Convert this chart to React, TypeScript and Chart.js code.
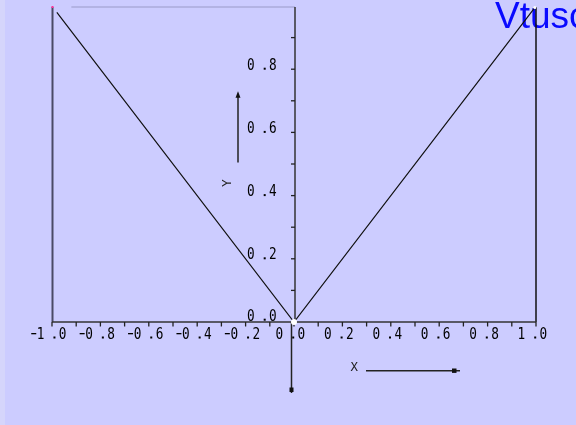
import React, { useEffect, useRef } from "react";
import { Chart, registerables } from "chart.js";

Chart.register(...registerables);

const TITLE = "Vtusc";
const X_NAME = "X";
const Y_NAME = "Y";
const X_VALUES = [-0.98, 0, 0.995];
const Y_VALUES = [0.98, 0, 0.995];
const X_MAJOR_TICKS = [-1.0, -0.8, -0.6, -0.4, -0.2, 0.0, 0.2, 0.4, 0.6, 0.8, 1.0];
const X_TICK_LABELS = ["-1.0", "-0.8", "-0.6", "-0.4", "-0.2", "0.0", "0.2", "0.4", "0.6", "0.8", "1.0"];
const X_MINOR_TICKS = [-0.9, -0.7, -0.5, -0.3, -0.1, 0.1, 0.3, 0.5, 0.7, 0.9];
const Y_MAJOR_TICKS = [0.0, 0.2, 0.4, 0.6, 0.8];
const Y_TICK_LABELS = ["0.0", "0.2", "0.4", "0.6", "0.8"];
const Y_MINOR_TICKS = [0.1, 0.3, 0.5, 0.7, 0.9];

type Glyph = { ch: string; x: number };

function layoutLabel(str: string): { glyphs: Glyph[]; width: number } {
  const glyphs: Glyph[] = [];
  let pos = 0;
  for (let i = 0; i < str.length; i++) {
    const ch = str[i];
    if (ch === ".") continue;
    glyphs.push({ ch, x: pos });
    if (ch !== "-" && str[i + 1] === ".") {
      glyphs.push({ ch: ".", x: pos + 16.7 });
      pos += 22;
    } else {
      pos += 6.5;
    }
  }
  return { glyphs, width: pos - 0.5 };
}

function drawLabel(ctx: CanvasRenderingContext2D, str: string, left: number, baseline: number) {
  const { glyphs } = layoutLabel(str);
  ctx.fillStyle = "#000";
  ctx.font = "15px 'DejaVu Sans Mono', monospace";
  ctx.textAlign = "left";
  ctx.textBaseline = "alphabetic";
  for (const g of glyphs) {
    const x = left + g.x;
    if (g.ch === "-") {
      ctx.fillRect(x, baseline - 5.5, 5, 1.3);
    } else if (g.ch === ".") {
      ctx.fillRect(x - 1, baseline - 2, 2, 2);
    } else {
      ctx.save();
      ctx.translate(x - 0.9, baseline);
      ctx.scale(0.85, 1);
      ctx.fillText(g.ch, 0, 0);
      ctx.restore();
    }
  }
}

function line(ctx: CanvasRenderingContext2D, x1: number, y1: number, x2: number, y2: number, color: string, w: number) {
  ctx.strokeStyle = color;
  ctx.lineWidth = w;
  ctx.beginPath();
  ctx.moveTo(x1, y1);
  ctx.lineTo(x2, y2);
  ctx.stroke();
}

const decorPlugin = {
  id: "decor",
  beforeDraw(chart: any) {
    const ctx: CanvasRenderingContext2D = chart.ctx;
    ctx.save();
    ctx.fillStyle = "#ccccff";
    ctx.fillRect(0, 0, chart.width, chart.height);
    ctx.fillStyle = "#d5d5fb";
    ctx.fillRect(0, 0, 5, chart.height);
    ctx.fillStyle = "#0a0aff";
    ctx.font = "37px 'Liberation Sans', Arial, sans-serif";
    ctx.textAlign = "left";
    ctx.textBaseline = "alphabetic";
    ctx.fillText(TITLE, 495, 28);
    ctx.restore();
  },
  beforeDatasetsDraw(chart: any) {
    const ctx: CanvasRenderingContext2D = chart.ctx;
    const xs = chart.scales.x;
    const ys = chart.scales.y;
    const area = chart.chartArea;
    const px0 = xs.getPixelForValue(0);
    const py0 = ys.getPixelForValue(0);
    const top = area.top + 1;
    ctx.save();

    // frame pieces
    line(ctx, xs.getPixelForValue(-0.92), top, px0 + 1, top, "#9a9ac8", 1);
    line(ctx, area.left + 0.5, top, area.left + 0.5, py0, "#4a4a66", 2);
    line(ctx, area.right, top, area.right, py0, "#111", 1.5);
    ctx.fillStyle = "#ff3399";
    ctx.fillRect(area.left - 0.5, top - 1, 2, 2);

    // x axis
    line(ctx, area.left, py0, area.right, py0, "#333", 1.5);
    for (const v of [...X_MAJOR_TICKS, ...X_MINOR_TICKS]) {
      const px = xs.getPixelForValue(v);
      line(ctx, px, py0, px, py0 + 4.5, "#222", 1.3);
    }
    X_TICK_LABELS.forEach((lab, i) => {
      const px = xs.getPixelForValue(X_MAJOR_TICKS[i]);
      const { width } = layoutLabel(lab);
      drawLabel(ctx, lab, px - 3.5 - width / 2, py0 + 16.5);
    });

    // y axis
    line(ctx, px0 + 1, top, px0 + 1, py0, "#333", 1.5);
    for (const v of [...Y_MAJOR_TICKS, ...Y_MINOR_TICKS]) {
      if (v === 0) continue;
      const py = ys.getPixelForValue(v);
      line(ctx, px0 - 3, py, px0 + 1, py, "#222", 1.3);
    }
    Y_TICK_LABELS.forEach((lab, i) => {
      const py = ys.getPixelForValue(Y_MAJOR_TICKS[i]);
      drawLabel(ctx, lab, px0 - 46, i === 0 ? py - 1.3 : py + 0.5);
    });

    // downward arrow below origin
    line(ctx, px0 - 2.5, py0, px0 - 2.5, py0 + 71, "#222", 1.5);
    ctx.fillStyle = "#111";
    ctx.fillRect(px0 - 4.5, py0 + 65.5, 4, 4.5);

    // Y arrow and name
    const yArrowX = px0 - 56;
    line(ctx, yArrowX, ys.getPixelForValue(0.505), yArrowX, ys.getPixelForValue(0.72), "#222", 1.5);
    ctx.beginPath();
    ctx.moveTo(yArrowX, ys.getPixelForValue(0.73));
    ctx.lineTo(yArrowX - 2.5, ys.getPixelForValue(0.71));
    ctx.lineTo(yArrowX + 2.5, ys.getPixelForValue(0.71));
    ctx.closePath();
    ctx.fill();
    ctx.save();
    ctx.translate(px0 - 63, ys.getPixelForValue(0.427));
    ctx.rotate(-Math.PI / 2);
    ctx.font = "13px 'DejaVu Sans Mono', monospace";
    ctx.fillStyle = "#222";
    ctx.fillText(Y_NAME, 0, 0);
    ctx.restore();

    // X arrow and name
    const xArrowY = py0 + 48.7;
    ctx.save();
    ctx.translate(px0 + 56.5, py0 + 49);
    ctx.scale(0.95, 1);
    ctx.font = "13px 'DejaVu Sans Mono', monospace";
    ctx.fillStyle = "#222";
    ctx.fillText(X_NAME, 0, 0);
    ctx.restore();
    line(ctx, px0 + 72, xArrowY, px0 + 166, xArrowY, "#222", 1.5);
    ctx.fillStyle = "#111";
    ctx.fillRect(px0 + 158, xArrowY - 2.2, 4.5, 4.4);
    ctx.restore();
  },
};

export default function App() {
  const ref = useRef<HTMLCanvasElement | null>(null);
  useEffect(() => {
    document.body.style.margin = "0";
    const canvas = ref.current;
    if (!canvas) return;
    const chart = new Chart(canvas, {
      type: "scatter",
      data: {
        datasets: [
          {
            data: X_VALUES.map((x, i) => ({ x, y: Y_VALUES[i] })),
            showLine: true,
            borderColor: "#111",
            borderWidth: 1.2,
            pointRadius: [0, 3, 1.5],
            pointBackgroundColor: "#ffffff",
            pointBorderWidth: 0,
            clip: false,
          } as any,
        ],
      },
      options: {
        responsive: false,
        animation: false,
        layout: { padding: { left: 52, right: 40, top: 6, bottom: 103 } },
        scales: {
          x: { type: "linear", min: -1, max: 1, display: false },
          y: { type: "linear", min: 0, max: 1, display: false },
        },
        plugins: { legend: { display: false }, tooltip: { enabled: false }, title: { display: false } },
      },
      plugins: [decorPlugin],
    });
    return () => chart.destroy();
  }, []);
  return <canvas ref={ref} width={576} height={425} style={{ display: "block" }} />;
}
